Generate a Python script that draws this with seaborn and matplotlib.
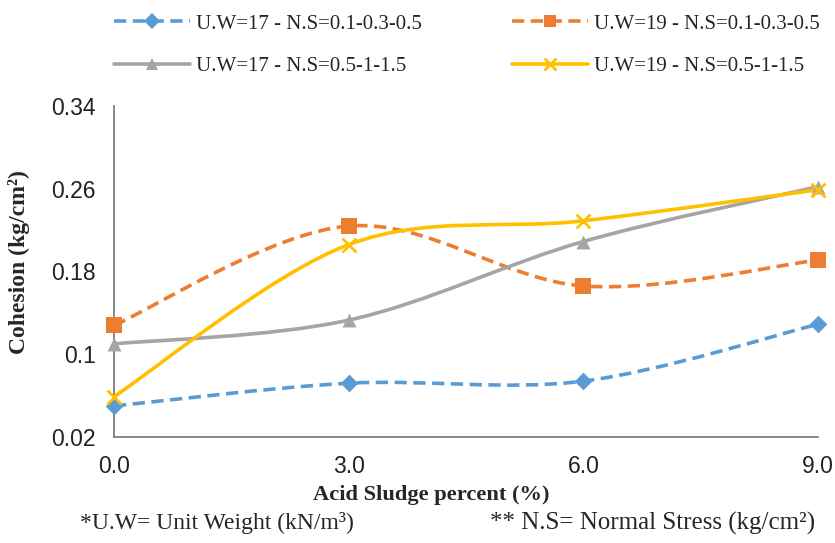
import numpy as np
import pandas as pd
import matplotlib
matplotlib.use("Agg")
import matplotlib.pyplot as plt
from matplotlib.path import Path
from matplotlib.patches import PathPatch
from matplotlib.lines import Line2D
import seaborn as sns

# Данные
acid_sludge = [0.0, 3.0, 6.0, 9.0]
uw17_ns_low = [0.050, 0.072, 0.074, 0.129]
uw19_ns_low = [0.128, 0.224, 0.166, 0.191]
uw17_ns_high = [0.110, 0.133, 0.209, 0.262]
uw19_ns_high = [0.059, 0.206, 0.229, 0.259]
series_names = [
    "U.W=17 - N.S=0.1-0.3-0.5",
    "U.W=19 - N.S=0.1-0.3-0.5",
    "U.W=17 - N.S=0.5-1-1.5",
    "U.W=19 - N.S=0.5-1-1.5",
]
y_ticks = [0.02, 0.1, 0.18, 0.26, 0.34]
y_tick_labels = ["0.02", "0.1", "0.18", "0.26", "0.34"]
x_ticks = [0.0, 3.0, 6.0, 9.0]

colors = ["#5B9BD5", "#ED7D31", "#A5A5A5", "#FFC000"]
markers = ["D", "s", "^", "x"]
marker_sizes = [9, 11, 10, 10]
dashed = [True, True, False, False]

df = pd.DataFrame({
    "x": acid_sludge * 4,
    "y": uw17_ns_low + uw19_ns_low + uw17_ns_high + uw19_ns_high,
    "series": np.repeat(series_names, len(acid_sludge)),
})

sns.set_style("white")
plt.rcParams["font.family"] = ["Liberation Sans", "DejaVu Sans"]

W, H = 835, 543
fig = plt.figure(figsize=(W / 100, H / 100), dpi=100)
ax = fig.add_axes([114 / W, 1 - 437 / H, 704 / W, 331 / H])


# Сглаженная линия как в Excel (кривые Безье по точкам)
def smooth_path(xs, ys):
    pts = np.column_stack([xs, ys])
    verts = [pts[0]]
    codes = [Path.MOVETO]
    n = len(pts)
    for i in range(n - 1):
        p0 = pts[i - 1] if i > 0 else pts[i]
        p1 = pts[i]
        p2 = pts[i + 1]
        p3 = pts[i + 2] if i + 2 < n else pts[i + 1]
        c1 = p1 + (p2 - p0) / 6.0
        c2 = p2 - (p3 - p1) / 6.0
        verts += [c1, c2, p2]
        codes += [Path.CURVE4] * 3
    return Path(verts, codes)


dash_style = (0, (3.4, 1.8))

for name, color, ds in zip(series_names, colors, dashed):
    sub = df[df["series"] == name]
    patch = PathPatch(smooth_path(sub["x"].values, sub["y"].values),
                      facecolor="none", edgecolor=color, lw=2.6,
                      linestyle=dash_style if ds else "-", capstyle="butt",
                      zorder=2, clip_on=False)
    ax.add_patch(patch)

for name, color, mk, ms in zip(series_names, colors, markers, marker_sizes):
    sub = df[df["series"] == name]
    sns.scatterplot(data=sub, x="x", y="y", color=color, marker=mk,
                    s=ms ** 2, linewidth=2 if mk == "x" else 0,
                    ax=ax, zorder=3, clip_on=False, legend=False)

ax.set_xlim(0, 9)
ax.set_ylim(0.02, 0.34)
ax.set_xticks(x_ticks)
ax.set_xticklabels([f"{v:.1f}" for v in x_ticks])
ax.set_yticks(y_ticks)
ax.set_yticklabels(y_tick_labels)
ax.tick_params(axis="both", labelsize=16.5, colors="#7f7f7f", labelcolor="#222222")
ax.tick_params(axis="y", direction="inout", length=12, width=1.2, pad=7)
ax.tick_params(axis="x", direction="out", length=7, width=1.2, pad=6)
ax.set_xlabel("")
ax.set_ylabel("")

sns.despine(ax=ax)
for side in ["left", "bottom"]:
    ax.spines[side].set_color("#7f7f7f")
    ax.spines[side].set_linewidth(1.3)

# Подписи осей
fig.text(431 / W, 1 - 495 / H, "Acid Sludge percent (%)", family="Liberation Serif",
         fontweight="bold", fontsize=16.2, ha="center", va="center")
fig.text(19 / W, 1 - 262 / H, "Cohesion (kg/cm²)", family="Liberation Serif",
         fontweight="bold", fontsize=17, ha="center", va="center", rotation=90)

# Легенда (порядок как в Excel: по строкам)
handles = []
for color, mk, ms, ds in zip(colors, markers, marker_sizes, dashed):
    h = Line2D([], [], color=color, lw=2.6, marker=mk, markersize=ms * 0.85,
               markeredgewidth=2 if mk == "x" else 0,
               linestyle=dash_style if ds else "-")
    handles.append(h)
order = [0, 2, 1, 3]
fig.legend([handles[i] for i in order], [series_names[i] for i in order],
           loc="upper left", bbox_to_anchor=(114 / W, 1 - 14 / H),
           ncol=2, frameon=False, prop={"family": "Liberation Serif", "size": 15},
           handlelength=3.65, handletextpad=0.3, columnspacing=4.3,
           labelspacing=1.1, borderpad=0, borderaxespad=0)

# Примечания
fig.text(80 / W, 1 - 523 / H, "*U.W= Unit Weight (kN/m³)", family="Liberation Serif",
         fontsize=17, va="center")
fig.text(490 / W, 1 - 523 / H, "** N.S= Normal Stress (kg/cm²)", family="Liberation Serif",
         fontsize=18, va="center")

fig.savefig("out.png", dpi=100)
